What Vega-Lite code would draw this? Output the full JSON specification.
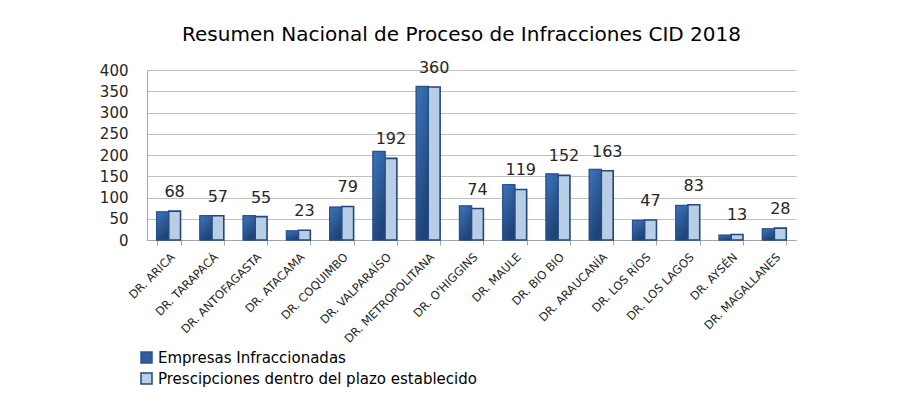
{
  "$schema": "https://vega.github.io/schema/vega-lite/v6.json",
  "width": 649,
  "height": 170,
  "autosize": {"type": "none"},
  "padding": {"left": 147, "top": 70, "right": 126, "bottom": 179},
  "background": "white",
  "title": {
    "text": "Resumen Nacional de Proceso de Infracciones CID 2018",
    "font": "DejaVu Sans",
    "fontSize": 20,
    "fontWeight": "normal",
    "color": "#000000",
    "anchor": "middle",
    "frame": "group",
    "offset": 15,
    "dx": -10
  },
  "data": {
    "values": [
      {"region": "DR. ARICA", "series": "Empresas Infraccionadas", "value": 66},
      {"region": "DR. ARICA", "series": "Prescipciones dentro del plazo establecido", "value": 68},
      {"region": "DR. TARAPACÁ", "series": "Empresas Infraccionadas", "value": 57},
      {"region": "DR. TARAPACÁ", "series": "Prescipciones dentro del plazo establecido", "value": 57},
      {"region": "DR. ANTOFAGASTA", "series": "Empresas Infraccionadas", "value": 57},
      {"region": "DR. ANTOFAGASTA", "series": "Prescipciones dentro del plazo establecido", "value": 55},
      {"region": "DR. ATACAMA", "series": "Empresas Infraccionadas", "value": 21},
      {"region": "DR. ATACAMA", "series": "Prescipciones dentro del plazo establecido", "value": 23},
      {"region": "DR. COQUIMBO", "series": "Empresas Infraccionadas", "value": 77},
      {"region": "DR. COQUIMBO", "series": "Prescipciones dentro del plazo establecido", "value": 79},
      {"region": "DR. VALPARAÍSO", "series": "Empresas Infraccionadas", "value": 208},
      {"region": "DR. VALPARAÍSO", "series": "Prescipciones dentro del plazo establecido", "value": 192},
      {"region": "DR. METROPOLITANA", "series": "Empresas Infraccionadas", "value": 361},
      {"region": "DR. METROPOLITANA", "series": "Prescipciones dentro del plazo establecido", "value": 360},
      {"region": "DR. O'HIGGINS", "series": "Empresas Infraccionadas", "value": 80},
      {"region": "DR. O'HIGGINS", "series": "Prescipciones dentro del plazo establecido", "value": 74},
      {"region": "DR. MAULE", "series": "Empresas Infraccionadas", "value": 130},
      {"region": "DR. MAULE", "series": "Prescipciones dentro del plazo establecido", "value": 119},
      {"region": "DR. BIO BIO", "series": "Empresas Infraccionadas", "value": 155},
      {"region": "DR. BIO BIO", "series": "Prescipciones dentro del plazo establecido", "value": 152},
      {"region": "DR. ARAUCANÍA", "series": "Empresas Infraccionadas", "value": 166},
      {"region": "DR. ARAUCANÍA", "series": "Prescipciones dentro del plazo establecido", "value": 163},
      {"region": "DR. LOS RÍOS", "series": "Empresas Infraccionadas", "value": 46},
      {"region": "DR. LOS RÍOS", "series": "Prescipciones dentro del plazo establecido", "value": 47},
      {"region": "DR. LOS LAGOS", "series": "Empresas Infraccionadas", "value": 81},
      {"region": "DR. LOS LAGOS", "series": "Prescipciones dentro del plazo establecido", "value": 83},
      {"region": "DR. AYSÉN", "series": "Empresas Infraccionadas", "value": 11},
      {"region": "DR. AYSÉN", "series": "Prescipciones dentro del plazo establecido", "value": 13},
      {"region": "DR. MAGALLANES", "series": "Empresas Infraccionadas", "value": 26},
      {"region": "DR. MAGALLANES", "series": "Prescipciones dentro del plazo establecido", "value": 28}
    ]
  },
  "encoding": {
    "x": {
      "field": "region",
      "type": "nominal",
      "sort": null,
      "title": null,
      "scale": {"paddingInner": 0.45, "paddingOuter": 0.225},
      "axis": {
        "labelAngle": -45,
        "labelAlign": "right",
        "labelBaseline": "top",
        "labelFont": "DejaVu Sans",
        "labelFontSize": 11.5,
        "labelColor": "#262626",
        "labelPadding": 6,
        "labelLimit": 0,
        "domainColor": "#a6a6a6",
        "tickColor": "#a6a6a6",
        "tickSize": 5,
        "tickBand": "extent",
        "grid": false
      }
    },
    "xOffset": {
      "field": "series",
      "type": "nominal",
      "scale": {"domain": ["Empresas Infraccionadas", "Prescipciones dentro del plazo establecido"], "padding": 0}
    },
    "y": {
      "field": "value",
      "type": "quantitative",
      "title": null,
      "scale": {"domain": [0, 400], "nice": false},
      "axis": {
        "values": [0, 50, 100, 150, 200, 250, 300, 350, 400],
        "labelFont": "DejaVu Sans",
        "labelFontSize": 15,
        "labelColor": "#262626",
        "labelPadding": 19,
        "ticks": false,
        "tickSize": 0,
        "domainColor": "#a6a6a6",
        "gridColor": "#c0c0c0",
        "gridWidth": 1
      }
    }
  },
  "layer": [
    {
      "mark": {"type": "bar", "strokeWidth": 1.6},
      "encoding": {
        "color": {
          "field": "series",
          "type": "nominal",
          "scale": {"domain": ["Empresas Infraccionadas", "Prescipciones dentro del plazo establecido"], "range": ["#2e5d9a", "#b9cde5"]},
          "legend": {
            "title": null,
            "orient": "none",
            "legendX": -8,
            "legendY": 280,
            "direction": "vertical",
            "symbolType": "square",
            "symbolSize": 121,
            "symbolStrokeWidth": 1.5,
            "labelFont": "DejaVu Sans",
            "labelFontSize": 15,
            "labelColor": "#000000",
            "labelOffset": 4,
            "labelLimit": 0,
            "rowPadding": 4,
            "padding": 0
          }
        },
        "stroke": {
          "field": "series",
          "type": "nominal",
          "scale": {"domain": ["Empresas Infraccionadas", "Prescipciones dentro del plazo establecido"], "range": ["#2a5590", "#1f497d"]}
        }
      }
    },
    {
      "transform": [{"filter": "datum.series === 'Empresas Infraccionadas'"}],
      "mark": {
        "type": "bar",
        "stroke": "#264f88",
        "strokeWidth": 0.8,
        "fill": {
          "gradient": "linear",
          "x1": 0, "y1": 0, "x2": 0.5, "y2": 1,
          "stops": [
            {"offset": 0, "color": "#3d75bb"},
            {"offset": 1, "color": "#1f4376"}
          ]
        }
      }
    },
    {
      "transform": [{"filter": "datum.series === 'Prescipciones dentro del plazo establecido'"}],
      "mark": {"type": "text", "baseline": "bottom", "dy": -11, "font": "DejaVu Sans", "fontSize": 16, "color": "#262626"},
      "encoding": {"text": {"field": "value", "type": "quantitative"}}
    }
  ],
  "config": {"view": {"stroke": null}}
}
